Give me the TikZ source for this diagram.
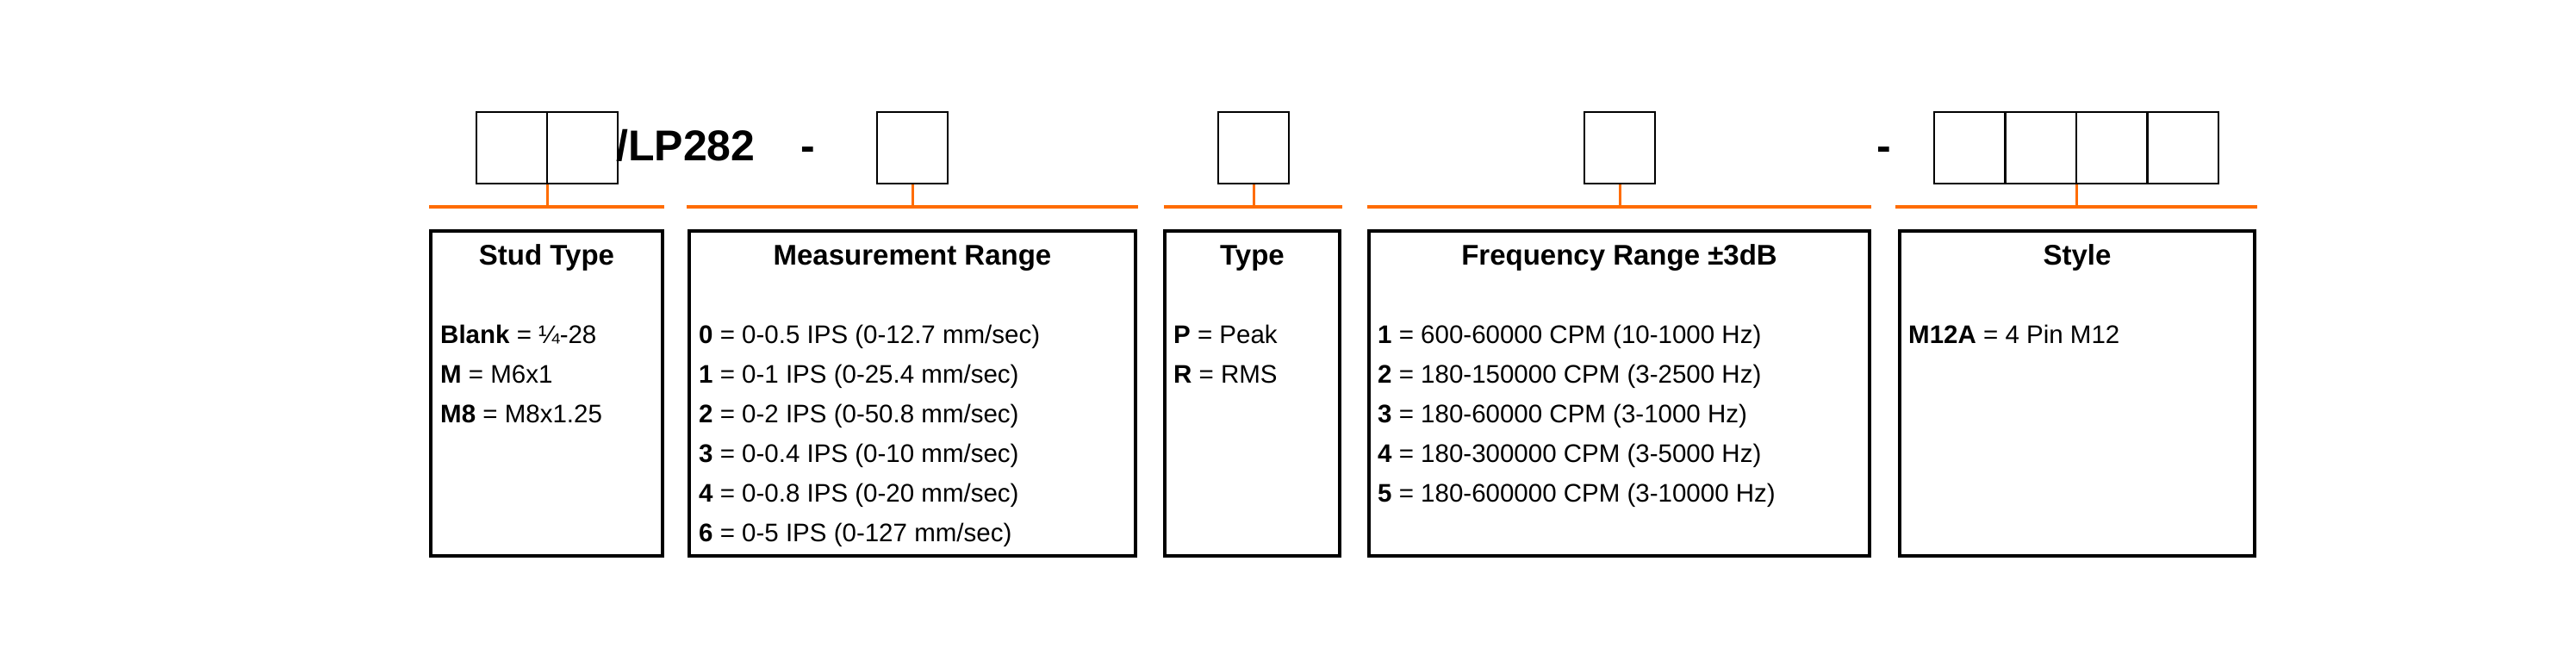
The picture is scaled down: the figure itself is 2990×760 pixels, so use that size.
\documentclass[tikz,border=0pt]{standalone}
\usepackage{fontspec}
\setmainfont{Liberation Sans}
\begin{document}
\begin{tikzpicture}[x=1pt,y=-1pt,
  slot/.style={draw=black,line width=2pt,minimum width=82pt,minimum height=83pt,inner sep=0pt},
  panel/.style={draw=black,line width=3.5pt},
  org/.style={draw=orange!85!red,line width=3.5pt},
  stub/.style={draw=orange!85!red,line width=3pt},
  ttl/.style={font=\bfseries\fontsize{33}{36}\selectfont,anchor=base},
  itm/.style={font=\fontsize{29.5}{33}\selectfont,anchor=base west,inner sep=0pt}]
\useasboundingbox (0,0) rectangle (2990,760);
% top slots
\node[slot] (s1) at (593.5,171.5) {};
\node[slot] (s2) at (676,171.5) {};
\node[font=\bfseries\fontsize{50}{55}\selectfont,anchor=base west,inner sep=0pt] (lp) at (715,186) {/LP282};
\node[font=\bfseries\fontsize{50}{55}\selectfont,anchor=base,inner sep=0pt] (d1) at (938,186) {-};
\node[slot] (m1) at (1059,171.5) {};
\node[slot] (t1) at (1455,171.5) {};
\node[slot] (f1) at (1880,171.5) {};
\node[font=\bfseries\fontsize{50}{55}\selectfont,anchor=base,inner sep=0pt] (d2) at (2187,186) {-};
\node[slot] (y1) at (2286,171.5) {};
\node[slot] (y2) at (2368.5,171.5) {};
\node[slot] (y3) at (2451,171.5) {};
\node[slot] (y4) at (2533.5,171.5) {};
% orange bars
\coordinate (a1) at (498,240); \coordinate (a2) at (771,240);
\coordinate (b1) at (797,240); \coordinate (b2) at (1321,240);
\coordinate (c1) at (1351,240); \coordinate (c2) at (1558,240);
\coordinate (e1) at (1587,240); \coordinate (e2) at (2172,240);
\coordinate (g1) at (2200,240); \coordinate (g2) at (2620,240);
\draw[org] (a1) -- (a2); \draw[org] (b1) -- (b2); \draw[org] (c1) -- (c2);
\draw[org] (e1) -- (e2); \draw[org] (g1) -- (g2);
\draw[stub] (s1.south east) -- (s1.south east |- a1);
\draw[stub] (m1.south) -- (m1.south |- b1);
\draw[stub] (t1.south) -- (t1.south |- c1);
\draw[stub] (f1.south) -- (f1.south |- e1);
\draw[stub] (y2.south east) -- (y2.south east |- g1);
% panels
\draw[panel] (500,268) rectangle (769,645);
\draw[panel] (800,268) rectangle (1318,645);
\draw[panel] (1352,268) rectangle (1555,645);
\draw[panel] (1589,268) rectangle (2170,645);
\draw[panel] (2205,268) rectangle (2617,645);
\node[ttl] (h1) at (634.5,307) {Stud Type};
\node[ttl] (h2) at (1059,307) {Measurement Range};
\node[ttl] (h3) at (1453.5,307) {Type};
\node[ttl] (h4) at (1879.5,307) {Frequency Range ±3dB};
\node[ttl] (h5) at (2411,307) {Style};
% stud
\node[itm] at (511,398) {\textbf{Blank} = ¼-28};
\node[itm] at (511,444) {\textbf{M} = M6x1};
\node[itm] at (511,490) {\textbf{M8} = M8x1.25};
% measurement
\node[itm] at (811,398) {\textbf{0} = 0-0.5 IPS (0-12.7 mm/sec)};
\node[itm] at (811,444) {\textbf{1} = 0-1 IPS (0-25.4 mm/sec)};
\node[itm] at (811,490) {\textbf{2} = 0-2 IPS (0-50.8 mm/sec)};
\node[itm] at (811,536) {\textbf{3} = 0-0.4 IPS (0-10 mm/sec)};
\node[itm] at (811,582) {\textbf{4} = 0-0.8 IPS (0-20 mm/sec)};
\node[itm] at (811,628) {\textbf{6} = 0-5 IPS (0-127 mm/sec)};
% type
\node[itm] at (1362,398) {\textbf{P} = Peak};
\node[itm] at (1362,444) {\textbf{R} = RMS};
% freq
\node[itm] at (1599,398) {\textbf{1} = 600-60000 CPM (10-1000 Hz)};
\node[itm] at (1599,444) {\textbf{2} = 180-150000 CPM (3-2500 Hz)};
\node[itm] at (1599,490) {\textbf{3} = 180-60000 CPM (3-1000 Hz)};
\node[itm] at (1599,536) {\textbf{4} = 180-300000 CPM (3-5000 Hz)};
\node[itm] at (1599,582) {\textbf{5} = 180-600000 CPM (3-10000 Hz)};
% style
\node[itm] at (2215,398) {\textbf{M12A} = 4 Pin M12};
\end{tikzpicture}
\end{document}
